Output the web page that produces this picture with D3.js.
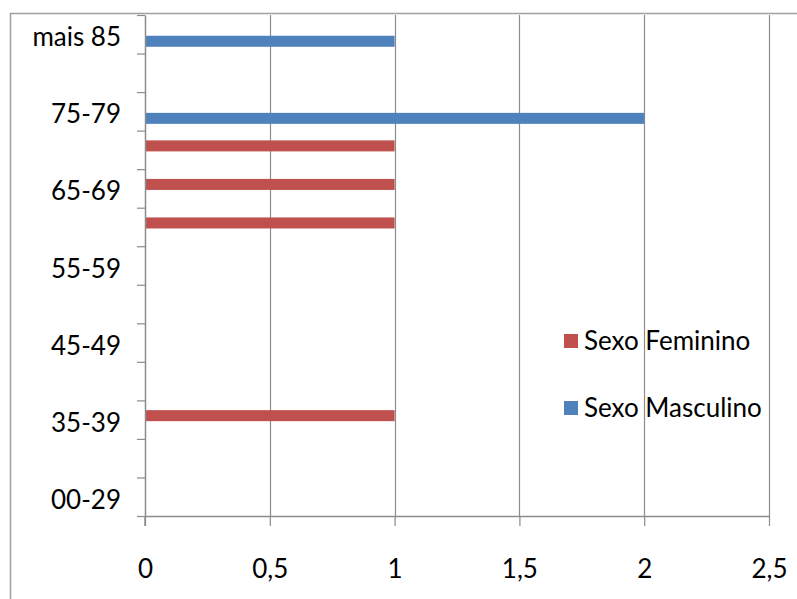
<!DOCTYPE html>
<html>
<head>
<meta charset="utf-8">
<script src="https://cdn.jsdelivr.net/npm/d3@7"></script>
<style>
  html, body { margin: 0; padding: 0; background: #ffffff; }
  svg { display: block; }
  text { font-family: Lato, "Open Sans", sans-serif; fill: #000; }
</style>
</head>
<body>
<svg id="chart" width="797" height="599"></svg>
<script>
// Age groups, bottom to top of the chart
const categories = ["00-29", "30-34", "35-39", "40-44", "45-49", "50-54", "55-59",
                    "60-64", "65-69", "70-74", "75-79", "80-84", "mais 85"];
const seriesNames = ["Sexo Feminino", "Sexo Masculino"];
const feminino  = [0, 0, 1, 0, 0, 0, 0, 1, 1, 1, 0, 0, 0];
const masculino = [0, 0, 0, 0, 0, 0, 0, 0, 0, 0, 2, 0, 1];
const labeledCategories = ["00-29", "35-39", "45-49", "55-59", "65-69", "75-79", "mais 85"];
const xTicks = [0, 0.5, 1, 1.5, 2, 2.5];

const colors = { "Sexo Feminino": "#C0504D", "Sexo Masculino": "#4F81BD" };
const gridColor = "#8c8c8c";

const svg = d3.select("#chart");
const plot = { left: 145, right: 769, top: 15, bottom: 516 };

// chart frame
svg.append("rect")
  .attr("x", 10.5).attr("y", 13.5)
  .attr("width", 800).attr("height", 600)
  .attr("fill", "#fff").attr("stroke", "#a0a0a0").attr("stroke-width", 1.5);

const x = d3.scaleLinear().domain([0, 2.5]).range([plot.left, plot.right]);
// top category first so it sits at the top of the range
const y = d3.scaleBand().domain(categories.slice().reverse())
  .range([plot.top, plot.bottom]).padding(0);
const ySub = d3.scaleBand().domain(seriesNames)
  .range([0, y.bandwidth()]).paddingInner(0).paddingOuter(0.75);
// boundary positions between categories, for the tick marks
const yEdge = d3.scaleLinear().domain([0, categories.length])
  .range([plot.bottom, plot.top]);

const locale = d3.formatLocale({ decimal: ",", thousands: ".", grouping: [3], currency: ["", ""] });
const fmt = v => locale.format("~g")(v);

// vertical gridlines
svg.append("g").selectAll("line").data(xTicks.slice(1)).join("line")
  .attr("x1", d => Math.round(x(d)) + 0.5).attr("x2", d => Math.round(x(d)) + 0.5)
  .attr("y1", plot.top).attr("y2", plot.bottom)
  .attr("stroke", gridColor).attr("stroke-width", 1.2);

// bars
const rows = categories.map((c, i) => ({ cat: c, "Sexo Feminino": feminino[i], "Sexo Masculino": masculino[i] }));
const barData = [];
rows.forEach(r => seriesNames.forEach(s => { if (r[s] > 0) barData.push({ cat: r.cat, series: s, value: r[s] }); }));
svg.append("g").selectAll("rect").data(barData).join("rect")
  .attr("x", x(0))
  .attr("y", d => y(d.cat) + ySub(d.series) + 1.5)
  .attr("width", d => x(d.value) - x(0))
  .attr("height", ySub.bandwidth())
  .attr("fill", d => colors[d.series]);

// x axis
const xAxis = svg.append("g")
  .attr("transform", `translate(0,${plot.bottom})`)
  .call(d3.axisBottom(x).tickValues(xTicks).tickSize(10).tickSizeOuter(0).tickFormat(fmt));
xAxis.select(".domain").attr("stroke", gridColor).attr("stroke-width", 1.5);
xAxis.selectAll(".tick line").attr("stroke", gridColor).attr("stroke-width", 1.2);
xAxis.selectAll(".tick text")
  .attr("y", 62).attr("dy", null)
  .style("font-family", "Lato, 'Open Sans', sans-serif")
  .style("font-size", "26px").attr("fill", "#000");

// y axis: tick marks at category boundaries
const yAxis = svg.append("g")
  .attr("transform", `translate(${plot.left},0)`)
  .call(d3.axisLeft(yEdge).tickValues(d3.range(categories.length + 1)).tickSize(8).tickSizeOuter(0).tickFormat(""));
yAxis.select(".domain").attr("stroke", gridColor).attr("stroke-width", 1.5);
yAxis.selectAll(".tick line").attr("stroke", gridColor).attr("stroke-width", 1.2);
// axis line continues below the x axis
svg.append("line")
  .attr("x1", plot.left).attr("x2", plot.left)
  .attr("y1", plot.bottom).attr("y2", plot.bottom + 10)
  .attr("stroke", gridColor).attr("stroke-width", 1.5);

// category labels
svg.append("g").selectAll("text").data(labeledCategories).join("text")
  .attr("x", 121)
  .attr("y", d => y(d) + y.bandwidth() / 2 + 12)
  .attr("text-anchor", "end")
  .style("font-size", "26px")
  .text(d => d);

// legend
const legend = svg.append("g").selectAll("g").data(seriesNames).join("g")
  .attr("transform", (d, i) => `translate(564,${334 + i * 67})`);
legend.append("rect").attr("width", 14).attr("height", 14)
  .attr("fill", d => colors[d]);
legend.append("text").attr("x", 20).attr("y", 16)
  .style("font-size", "26px").text(d => d);
</script>
</body>
</html>
